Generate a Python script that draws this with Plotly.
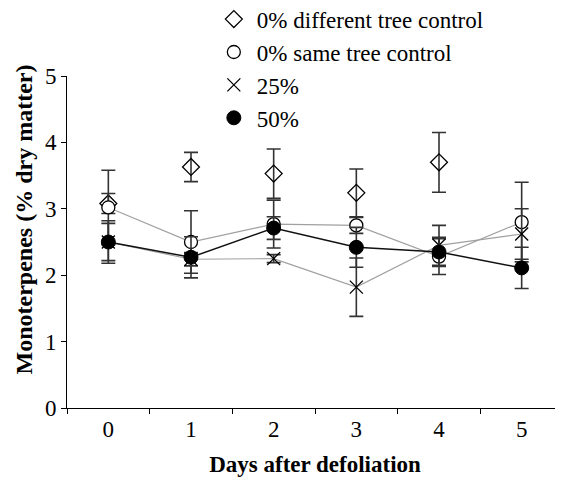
import plotly.graph_objects as go

days = [0, 1, 2, 3, 4, 5]
tick_labels = ["0", "1", "2", "3", "4", "5"]

diff_days = [0, 1, 2, 3, 4]
diff_tree = [3.08, 3.63, 3.53, 3.24, 3.70]
diff_err = [0.15, 0.22, 0.37, 0.36, 0.45]

same_tree = [3.02, 2.50, 2.77, 2.75, 2.28, 2.80]
same_err = [0.56, 0.47, 0.36, 0.12, 0.27, 0.60]

def25 = [2.50, 2.24, 2.25, 1.82, 2.45, 2.62]
def25_err = [0.28, 0.10, 0.06, 0.44, 0.30, 0.38]

def50 = [2.50, 2.27, 2.71, 2.42, 2.35, 2.11]
def50_err = [0.32, 0.31, 0.17, 0.30, 0.22, 0.31]

FONT = "Times New Roman, Liberation Serif, serif"
ERRC = "#333333"

fig = go.Figure()

# connecting lines (not in legend)
fig.add_trace(go.Scatter(x=days, y=same_tree, mode="lines", line=dict(color="#a0a0a0", width=1.2),
                         showlegend=False, hoverinfo="skip"))
fig.add_trace(go.Scatter(x=days, y=def25, mode="lines", line=dict(color="#a0a0a0", width=1.2),
                         showlegend=False, hoverinfo="skip"))
fig.add_trace(go.Scatter(x=days, y=def50, mode="lines", line=dict(color="#111111", width=1.5),
                         showlegend=False, hoverinfo="skip"))

def err(vals):
    return dict(type="data", array=vals, visible=True, color=ERRC, thickness=1.6, width=7)

fig.add_trace(go.Scatter(x=diff_days, y=diff_tree, mode="markers", name="0% different tree control",
                         marker=dict(symbol="diamond-open", size=13, color="black", line=dict(width=1.3)),
                         error_y=err(diff_err)))
fig.add_trace(go.Scatter(x=days, y=same_tree, mode="markers", name="0% same tree control",
                         marker=dict(symbol="circle", size=13, color="white", line=dict(color="black", width=1.3)),
                         error_y=err(same_err)))
fig.add_trace(go.Scatter(x=days, y=def25, mode="markers", name="25%",
                         marker=dict(symbol="x-thin-open", size=13, color="black", line=dict(color="black", width=1.3)),
                         error_y=err(def25_err)))
fig.add_trace(go.Scatter(x=days, y=def50, mode="markers", name="50%",
                         marker=dict(symbol="circle", size=14, color="black", line=dict(color="black", width=1)),
                         error_y=err(def50_err)))

fig.update_layout(
    width=555, height=471,
    margin=dict(l=59, r=0, t=68, b=71, autoexpand=False),
    paper_bgcolor="white", plot_bgcolor="white",
    font=dict(family=FONT, size=23, color="black"),
    legend=dict(x=0.29, y=1.236, xanchor="left", yanchor="top",
                bgcolor="rgba(0,0,0,0)", font=dict(family=FONT, size=23, color="black"),
                itemwidth=36, tracegroupgap=0),
    xaxis=dict(range=[-0.5, 5.5], tickvals=days, ticktext=tick_labels, ticks="",
               showline=True, linecolor="black", linewidth=1, showgrid=False, zeroline=False,
               tickfont=dict(family=FONT, size=23, color="black"),
               minor=dict(tickvals=[-0.5, 0.5, 1.5, 2.5, 3.5, 4.5], ticks="outside", ticklen=5,
                          tickcolor="black", showgrid=False),
               title=dict(text="<b>Days after defoliation</b>", font=dict(family=FONT, size=23, color="black"),
                          standoff=15)),
    yaxis=dict(range=[0, 5], tickvals=[0, 1, 2, 3, 4, 5], ticks="outside", ticklen=5, tickcolor="black",
               showline=True, linecolor="black", linewidth=1, showgrid=False, zeroline=False,
               tickfont=dict(family=FONT, size=23, color="black")),
    annotations=[dict(text="<b>Monoterpenes (% dry matter)</b>", xref="paper", yref="paper",
                      x=-0.086, y=0.569, xanchor="center", yanchor="middle", textangle=-90,
                      showarrow=False, font=dict(family=FONT, size=24, color="black"))],
)

fig.write_html("out.html")
